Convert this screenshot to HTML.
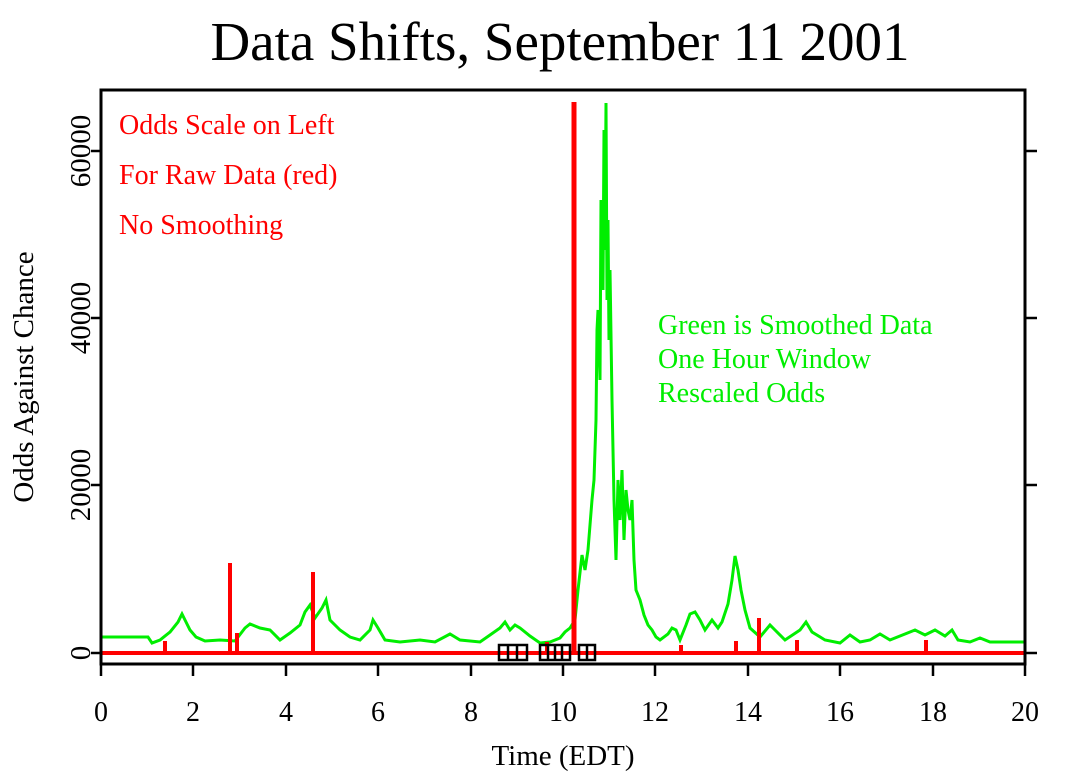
<!DOCTYPE html>
<html><head><style>body{margin:0;background:#fff}svg{display:block}</style></head><body>
<svg width="1088" height="772" xmlns="http://www.w3.org/2000/svg" font-family="Liberation Serif, serif">
<rect width="1088" height="772" fill="#fff"/>
<text x="560" y="60" font-size="55" text-anchor="middle">Data Shifts, September 11 2001</text>
<text x="33" y="377" font-size="29" text-anchor="middle" transform="rotate(-90 33 377)">Odds Against Chance</text>
<text x="563" y="765" font-size="29" text-anchor="middle">Time (EDT)</text>
<g font-size="29" text-anchor="middle">
<text transform="translate(90 653) rotate(-90)">0</text>
<text transform="translate(90 485) rotate(-90)">20000</text>
<text transform="translate(90 318) rotate(-90)">40000</text>
<text transform="translate(90 151) rotate(-90)">60000</text>
</g>
<g font-size="28" text-anchor="middle">
<text x="101" y="721">0</text><text x="193" y="721">2</text><text x="286" y="721">4</text><text x="378" y="721">6</text><text x="471" y="721">8</text><text x="563" y="721">10</text><text x="655" y="721">12</text><text x="748" y="721">14</text><text x="840" y="721">16</text><text x="933" y="721">18</text><text x="1025" y="721">20</text>
</g>
<polyline fill="none" stroke="#00ee00" stroke-width="3" points="101,637 148,637 152,643 160,640 170,632 178,622 182,614 186,622 190,630 196,637 205,641 220,640 235,641 245,628 250,624 260,628 270,630 280,640 290,633 300,625 305,612 310,605 315,618 322,608 326,600 330,620 340,630 350,637 360,640 370,630 373,620 378,628 385,640 400,642 420,640 435,642 450,634 460,640 480,642 490,635 500,628 505,622 510,630 515,625 520,628 530,636 540,643 550,642 560,638 565,632 570,628 575,620 578,590 582,555 585,570 588,550 592,500 594,480 596,420 597,330 598,310 600,380 601,200 603,290 604,130 605,250 606,103 607,300 608,220 609,340 610,270 612,400 614,500 616,560 618,480 620,520 622,470 624,540 626,490 628,510 630,520 632,500 634,560 636,590 640,600 644,615 648,625 652,630 656,637 660,640 668,634 672,628 676,630 680,640 686,625 690,614 695,612 700,620 705,630 712,620 718,628 722,622 728,604 732,580 735,556 738,570 741,590 745,610 750,628 760,637 770,625 775,630 785,640 800,630 806,622 812,632 825,640 840,643 850,635 860,642 870,640 880,634 890,640 900,636 915,630 925,635 935,630 945,636 952,630 958,640 970,642 980,638 990,642 1025,642"/>
<g stroke="#f00" stroke-width="4">
<line x1="101" y1="653" x2="1025" y2="653"/>
<line x1="230" y1="653" x2="230" y2="563"/>
<line x1="313" y1="653" x2="313" y2="572"/>
<line x1="237" y1="653" x2="237" y2="633"/>
<line x1="574" y1="653" x2="574" y2="102" stroke-width="5"/>
<line x1="759" y1="653" x2="759" y2="618"/>
<line x1="736" y1="653" x2="736" y2="641"/>
<line x1="797" y1="653" x2="797" y2="640"/>
<line x1="165" y1="653" x2="165" y2="641"/>
<line x1="926" y1="653" x2="926" y2="640"/>
<line x1="547" y1="653" x2="547" y2="642"/>
<line x1="681" y1="653" x2="681" y2="645"/>
</g>
<g fill="none" stroke="#000" stroke-width="2.5">
<rect x="499" y="645" width="28" height="15"/><line x1="508" y1="645" x2="508" y2="660"/><line x1="517" y1="645" x2="517" y2="660"/>
<rect x="540" y="645" width="30" height="15"/><line x1="548" y1="645" x2="548" y2="660"/><line x1="555" y1="645" x2="555" y2="660"/><line x1="562" y1="645" x2="562" y2="660"/>
<rect x="579" y="645" width="16" height="15"/><line x1="587" y1="645" x2="587" y2="660"/>
</g>
<rect x="101" y="90" width="924" height="574" fill="none" stroke="#000" stroke-width="3"/>
<g stroke="#000" stroke-width="2.5">
<line x1="101" y1="664" x2="101" y2="676"/>
<line x1="193" y1="664" x2="193" y2="676"/><line x1="286" y1="664" x2="286" y2="676"/><line x1="378" y1="664" x2="378" y2="676"/><line x1="471" y1="664" x2="471" y2="676"/><line x1="563" y1="664" x2="563" y2="676"/><line x1="655" y1="664" x2="655" y2="676"/><line x1="748" y1="664" x2="748" y2="676"/><line x1="840" y1="664" x2="840" y2="676"/><line x1="933" y1="664" x2="933" y2="676"/><line x1="1025" y1="664" x2="1025" y2="676"/>
<line x1="91" y1="151" x2="101" y2="151"/><line x1="91" y1="318" x2="101" y2="318"/><line x1="91" y1="485" x2="101" y2="485"/><line x1="91" y1="653" x2="101" y2="653"/>
<line x1="1025" y1="151" x2="1037" y2="151"/><line x1="1025" y1="318" x2="1037" y2="318"/><line x1="1025" y1="485" x2="1037" y2="485"/><line x1="1025" y1="653" x2="1037" y2="653"/>
</g>
<g fill="#f00" font-size="28">
<text x="119" y="134">Odds Scale on Left</text><text x="119" y="184">For Raw Data (red)</text><text x="119" y="234">No Smoothing</text>
</g>
<g fill="#00ee00" font-size="28">
<text x="658" y="334">Green is Smoothed Data</text><text x="658" y="368">One Hour Window</text><text x="658" y="402">Rescaled Odds</text>
</g>
</svg>
</body></html>
